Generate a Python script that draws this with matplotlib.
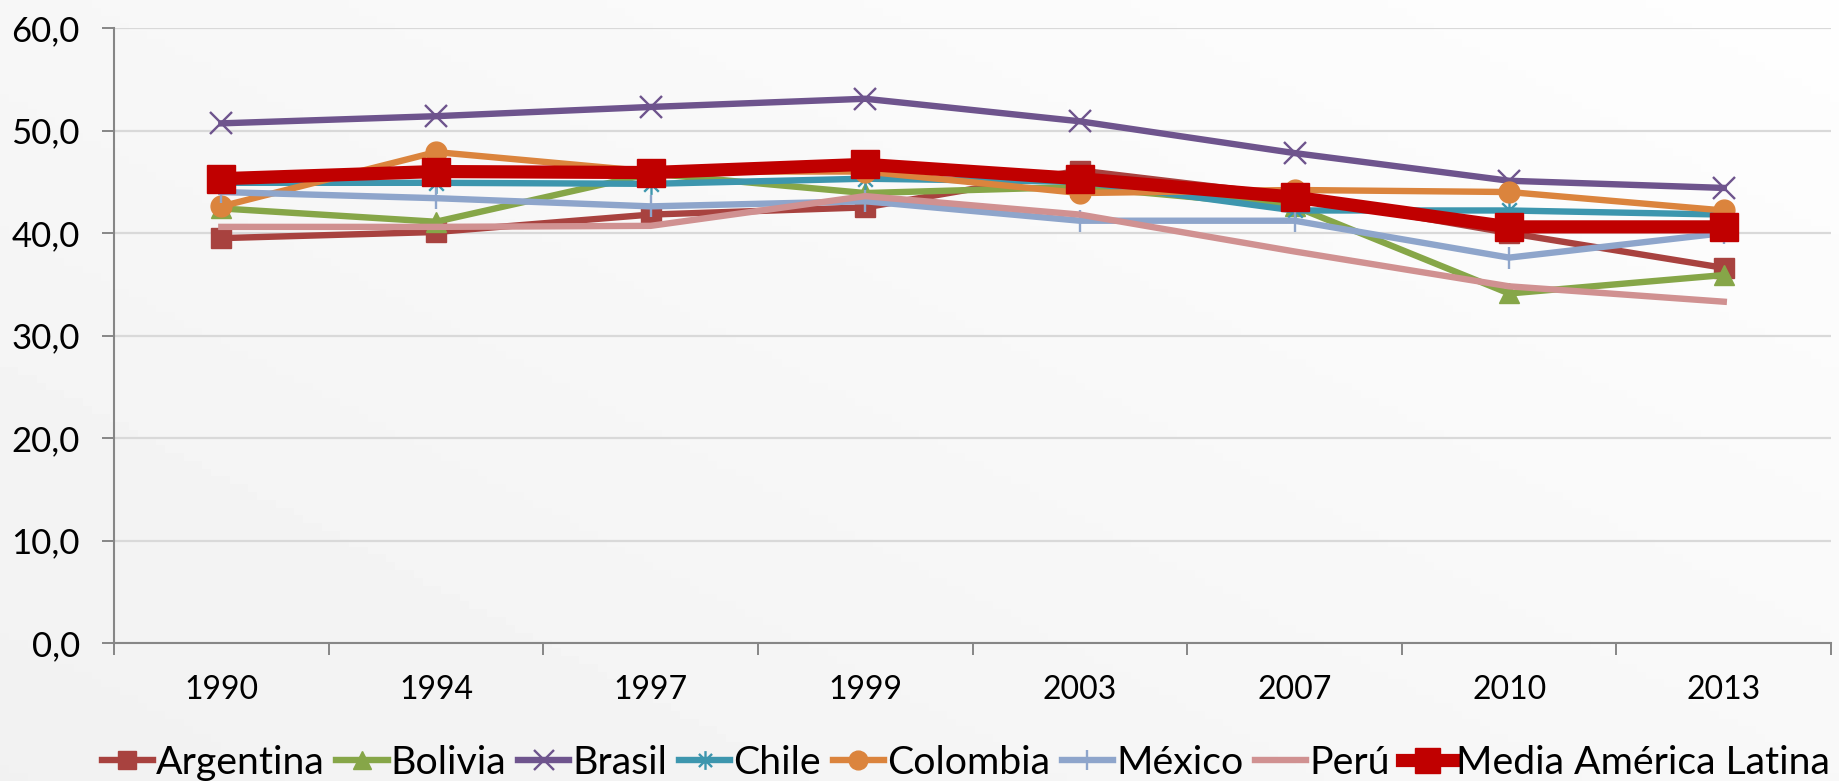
#!/usr/bin/env python3
# -*- coding: utf-8 -*-

import numpy as np
import matplotlib
matplotlib.use('Agg')
import matplotlib.pyplot as plt
from matplotlib.path import Path
from matplotlib.ticker import FuncFormatter, FixedLocator

plt.rcParams['font.family'] = ['Lato', 'DejaVu Sans']

# Data
years = ['1990', '1994', '1997', '1999', '2003', '2007', '2010', '2013']

argentina = [39.5, 40.1, 41.8, 42.5, 46.1, 43.6, 40.0, 36.6]
bolivia = [42.4, 41.1, 45.8, 43.9, 44.5, 42.6, 34.1, 35.9]
brasil = [50.7, 51.4, 52.3, 53.1, 50.9, 47.8, 45.1, 44.4]
chile = [44.9, 44.9, 44.8, 45.3, 45.0, 42.2, 42.2, 41.8]
colombia = [42.6, 47.9, 46.0, 46.0, 43.9, 44.2, 44.0, 42.2]
mexico = [44.0, 43.4, 42.6, 43.1, 41.2, 41.2, 37.6, 40.0]
peru = [40.6, 40.6, 40.7, 43.6, 41.8, 38.2, 34.8, 33.3]
media = [45.3, 46.0, 45.9, 46.7, 45.3, 43.5, 40.6, 40.6]

# Excel style asterisk: vertical bar plus an X
asterisk = Path([(0, -1), (0, 1), (-0.7, -0.7), (0.7, 0.7), (-0.7, 0.7), (0.7, -0.7)],
                [Path.MOVETO, Path.LINETO, Path.MOVETO, Path.LINETO, Path.MOVETO, Path.LINETO])

fig = plt.figure(figsize=(18.39, 7.81), dpi=100)

# Soft grey background gradient (lighter to the upper right)
bg = fig.add_axes([0, 0, 1, 1], zorder=-10)
gx, gy = np.meshgrid(np.linspace(0, 1, 200), np.linspace(0, 1, 100))
shade = 0.995 - 0.05 * (0.55 * (1 - gx) + 0.45 * gy)
bg.imshow(shade, cmap='gray', vmin=0, vmax=1, aspect='auto', extent=[0, 1, 0, 1])
bg.axis('off')

ax = fig.add_axes([0.062, 0.1767, 0.9337, 0.7874])
ax.patch.set_alpha(0)

x = np.arange(len(years))
lw = 4.6

ax.plot(x, argentina, color='#A8423F', lw=lw, marker='s', ms=14, mec='#A8423F',
        label='Argentina', zorder=3)
ax.plot(x, bolivia, color='#86A648', lw=lw, marker='^', ms=15, mec='#86A648',
        label='Bolivia', zorder=3)
ax.plot(x, brasil, color='#6E548D', lw=lw, marker='x', ms=16, mew=1.7,
        label='Brasil', zorder=3)
ax.plot(x, chile, color='#3D96AE', lw=lw, marker=asterisk, ms=15, mew=1.7,
        label='Chile', zorder=3)
ax.plot(x, colombia, color='#DB843D', lw=lw, marker='o', ms=15, mec='#DB843D',
        label='Colombia', zorder=3)
ax.plot(x, mexico, color='#8EA5CB', lw=lw, marker='|', ms=16, mew=1.7,
        label='México', zorder=3)
ax.plot(x, peru, color='#D09191', lw=lw, label='Perú', zorder=3)
ax.plot(x, media, color='#C00000', lw=9.5, marker='s', ms=20, mec='#C00000',
        label='Media América Latina', zorder=4)

ax.set_xlim(-0.5, len(years) - 0.5)
ax.set_ylim(0, 60)
ax.set_yticks(np.arange(0, 61, 10))
ax.yaxis.set_major_formatter(FuncFormatter(lambda v, p: '{:.1f}'.format(v).replace('.', ',')))

# Category ticks between the labels, labels at the centres
ax.xaxis.set_major_locator(FixedLocator(np.arange(-0.5, len(years), 1.0)))
ax.xaxis.set_minor_locator(FixedLocator(x))
ax.set_xticklabels([], minor=False)
ax.set_xticklabels(years, minor=True)

ax.tick_params(axis='y', length=8.6, width=1.4, color='#868686', pad=16, labelsize=25)
ax.tick_params(axis='x', which='major', length=8.6, width=1.4, color='#868686')
ax.tick_params(axis='x', which='minor', length=0, pad=23, labelsize=23)

ax.grid(axis='y', color='#D9D9D9', lw=1.6, zorder=0)
ax.set_axisbelow(True)
for side in ['top', 'right']:
    ax.spines[side].set_visible(False)
for side in ['left', 'bottom']:
    ax.spines[side].set_color('#868686')
    ax.spines[side].set_linewidth(1.5)

ax.legend(loc='upper center', bbox_to_anchor=(0.496, -0.14), ncol=8, frameon=False,
          fontsize=28.3, handlelength=1.3, handletextpad=0.08, columnspacing=0.3,
          borderaxespad=0, markerscale=0.9)

fig.savefig('out.png', dpi=100)
